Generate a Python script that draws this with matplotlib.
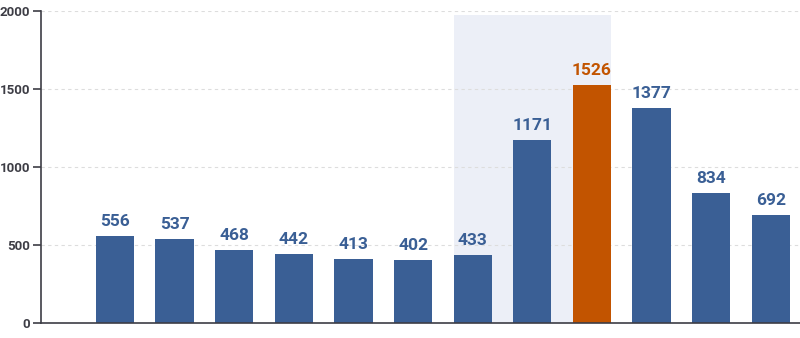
import numpy as np
import matplotlib.pyplot as plt

values = [556, 537, 468, 442, 413, 402, 433, 1171, 1526, 1377, 834, 692]
highlight = 8
shade_range = (6, 8)
yticks = [0, 500, 1000, 1500, 2000]

BLUE = '#3a5f95'
ORANGE = '#c25400'
SHADE = '#eceff7'
DARK = '#3d3d45'

plt.rcParams['font.family'] = ['Roboto', 'DejaVu Sans']

fig = plt.figure(figsize=(8, 3.38), dpi=100)
ax = fig.add_axes([0.05125, 0.0444, 0.94875, 0.9231])

x = np.arange(len(values))
width = 0.64
colors = [ORANGE if i == highlight else BLUE for i in x]

ax.axvspan(shade_range[0] - width / 2, shade_range[1] + width / 2,
           ymin=0, ymax=1975 / 2000, color=SHADE, zorder=0, lw=0)
ax.bar(x, values, width=width, color=colors, zorder=2)

for xi, v, c in zip(x, values, colors):
    ax.annotate(str(v), (xi, v), xytext=(0, 5), textcoords='offset points',
                ha='center', va='bottom', color=c, fontsize=12.5,
                fontweight='bold', zorder=3)

ax.set_xlim(-1.24, len(values) - 0.51)
ax.set_ylim(0, 2000)
ax.set_yticks(yticks)
ax.set_yticklabels([str(t) for t in yticks], fontweight='bold', color=DARK,
                   fontsize=9.5)
ax.set_xticks([])
ax.yaxis.grid(True, ls=(0, (3, 3)), color='#dddddd', lw=0.8, zorder=1)
ax.set_axisbelow(True)
for s in ['top', 'right']:
    ax.spines[s].set_visible(False)
for s in ['left', 'bottom']:
    ax.spines[s].set_color(DARK)
    ax.spines[s].set_linewidth(1.2)
ax.tick_params(axis='y', length=6, width=1.2, color=DARK, pad=2)

fig.savefig('out.png', dpi=100)
